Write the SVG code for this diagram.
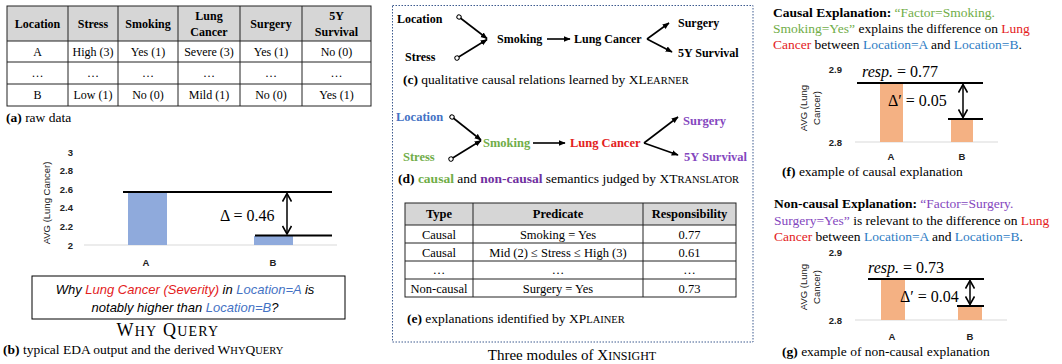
<svg xmlns="http://www.w3.org/2000/svg" width="1062" height="364" viewBox="0 0 1062 364">
<defs>
<style>
.serif{font-family:"Liberation Serif","Times New Roman",serif;fill:#000}
.sans{font-family:"Liberation Sans",Arial,sans-serif;fill:#000}
.th{font-family:"Liberation Serif",serif;font-weight:bold;font-size:12px;text-anchor:middle}
.td{font-family:"Liberation Serif",serif;font-size:12px;text-anchor:middle}
.te{font-size:12.5px}
.cap{font-family:"Liberation Serif",serif;font-size:13.5px}
.sc{font-size:10.5px}
.grid{stroke:#222;stroke-width:1;fill:none}
.hdr{fill:#D6D6D6}
.tick{font-family:"Liberation Sans",Arial,sans-serif;font-weight:bold;font-size:9.5px;fill:#222}
.ytitle{font-family:"Liberation Sans",Arial,sans-serif;font-size:9.5px;fill:#222;text-anchor:middle}
.axis{stroke:#D9D9D9;stroke-width:1}
.ref{stroke:#000;stroke-width:2}
.dbl{stroke:#000;stroke-width:1.5;marker-start:url(#chev);marker-end:url(#chev)}
.math{font-family:"Liberation Serif","DejaVu Serif",serif;font-size:16px}
.node{font-family:"Liberation Serif",serif;font-weight:bold;font-size:12px}
.noded{font-family:"Liberation Serif",serif;font-weight:bold;font-size:12.5px}
.edge{stroke:#000;stroke-width:1.6;fill:none;marker-end:url(#tri)}
.edgeo{stroke:#000;stroke-width:1.6;fill:none;marker-start:url(#circ);marker-end:url(#tri)}
.exp{font-family:"Liberation Serif",serif;font-size:13.5px}
.green{fill:#70AD47}
.red{fill:#E3211C}
.blue{fill:#2E7CC4}
.lblue{fill:#4472C4}
.purple{fill:#8447BE}
.dpurple{fill:#7030A0}
</style>
<marker id="chev" viewBox="0 0 10 10" refX="9" refY="5" markerWidth="10" markerHeight="10" markerUnits="userSpaceOnUse" orient="auto-start-reverse">
<path d="M1,0.5 L9,5 L1,9.5" fill="none" stroke="#000" stroke-width="1.6"/>
</marker>
<marker id="tri" viewBox="0 0 10 10" refX="9" refY="5" markerWidth="7" markerHeight="7" markerUnits="userSpaceOnUse" orient="auto">
<path d="M0,1 L10,5 L0,9 Z" fill="#000"/>
</marker>
<marker id="circ" viewBox="0 0 10 10" refX="5" refY="5" markerWidth="6" markerHeight="6" markerUnits="userSpaceOnUse" orient="auto">
<circle cx="5" cy="5" r="3.6" fill="#fff" stroke="#000" stroke-width="1.6"/>
</marker>
</defs>
<rect width="1062" height="364" fill="#fff"/>

<!-- (a) raw data table -->
<g id="table-a">
<rect class="hdr" x="7" y="6" width="364" height="35"/>
<rect class="grid" x="7" y="6" width="364" height="100" stroke-width="1.5"/>
<path class="grid" d="M7,41H371M7,62H371M7,84H371M68,6V106M118,6V106M178,6V106M240,6V106M302,6V106"/>
<text class="th" x="37.5" y="28">Location</text>
<text class="th" x="93" y="28">Stress</text>
<text class="th" x="148" y="28">Smoking</text>
<text class="th" x="209" y="20">Lung</text>
<text class="th" x="209" y="36">Cancer</text>
<text class="th" x="271" y="28">Surgery</text>
<text class="th" x="336.5" y="20">5Y</text>
<text class="th" x="336.5" y="36">Survival</text>
<text class="td" x="37.5" y="56">A</text>
<text class="td" x="93" y="56">High (3)</text>
<text class="td" x="148" y="56">Yes (1)</text>
<text class="td" x="209" y="56">Severe (3)</text>
<text class="td" x="271" y="56">Yes (1)</text>
<text class="td" x="336.5" y="56">No (0)</text>
<text class="td" x="37.5" y="77">…</text>
<text class="td" x="93" y="77">…</text>
<text class="td" x="148" y="77">…</text>
<text class="td" x="209" y="77">…</text>
<text class="td" x="271" y="77">…</text>
<text class="td" x="336.5" y="77">…</text>
<text class="td" x="37.5" y="99">B</text>
<text class="td" x="93" y="99">Low (1)</text>
<text class="td" x="148" y="99">No (0)</text>
<text class="td" x="209" y="99">Mild (1)</text>
<text class="td" x="271" y="99">No (0)</text>
<text class="td" x="336.5" y="99">Yes (1)</text>
<text class="cap" x="6" y="122"><tspan font-weight="bold">(a)</tspan> raw data</text>
</g>

<!-- (b) EDA chart -->
<g id="chart-b">
<text class="ytitle" transform="translate(50,203) rotate(-90)">AVG (Lung Cancer)</text>
<g class="tick" text-anchor="end">
<text x="73" y="155.5">3</text>
<text x="73" y="174">2.8</text>
<text x="73" y="192.5">2.6</text>
<text x="73" y="211">2.4</text>
<text x="73" y="230">2.2</text>
<text x="73" y="248.5">2</text>
</g>
<line class="axis" x1="84" y1="245" x2="337" y2="245"/>
<rect x="128" y="192" width="39" height="53" fill="#8FAADC"/>
<rect x="254" y="236" width="39" height="9" fill="#8FAADC"/>
<line class="ref" x1="123" y1="192" x2="332" y2="192"/>
<line class="ref" x1="255" y1="235.5" x2="332" y2="235.5"/>
<line class="dbl" x1="287" y1="193.5" x2="287" y2="234"/>
<text class="math" x="220" y="221" font-size="17">Δ = 0.46</text>
<text class="tick" x="146" y="265.5" text-anchor="middle">A</text>
<text class="tick" x="273" y="265.5" text-anchor="middle">B</text>
</g>

<g id="why-query">
<rect x="32" y="276" width="313" height="43" fill="#fff" stroke="#000" stroke-width="1"/>
<text class="sans" x="185" y="294" font-size="13" font-style="italic" text-anchor="middle">Why <tspan class="red">Lung Cancer (Severity)</tspan> in <tspan class="lblue">Location=A</tspan> is</text>
<text class="sans" x="185" y="312" font-size="13" font-style="italic" text-anchor="middle">notably higher than <tspan class="lblue">Location=B</tspan>?</text>
<text class="serif" x="168" y="336" text-anchor="middle" font-size="18" letter-spacing="1.2">W<tspan font-size="14">HY</tspan> Q<tspan font-size="14">UERY</tspan></text>
<text class="cap" x="3" y="354"><tspan font-weight="bold">(b)</tspan> typical EDA output and the derived W<tspan class="sc">HY</tspan>Q<tspan class="sc">UERY</tspan></text>
</g>

<!-- middle dotted frame -->
<g id="modules-frame">
<rect x="392.5" y="5.5" width="360.5" height="336.5" fill="none" stroke="#3D5A8E" stroke-width="1" stroke-dasharray="1.5 1.5"/>
<text class="serif" x="572" y="360" font-size="15" text-anchor="middle">Three modules of X<tspan font-size="12">INSIGHT</tspan></text>
</g>

<!-- (c) causal graph -->
<g id="graph-c">
<g id="c-location"><text class="node" x="397" y="23">Location</text></g>
<g id="c-stress"><text class="node" x="405" y="61">Stress</text></g>
<g id="c-smoking"><text class="node" x="497" y="43">Smoking</text></g>
<g id="c-lung"><text class="node" x="574" y="43">Lung Cancer</text></g>
<g id="c-surgery"><text class="node" x="678" y="27">Surgery</text></g>
<g id="c-survival"><text class="node" x="678" y="57">5Y Survival</text></g>
<g id="c-edges">
<line class="edgeo" x1="459" y1="17" x2="487" y2="38.5"/>
<line class="edgeo" x1="457" y1="58" x2="487" y2="39.5"/>
<line class="edge" x1="547" y1="39" x2="570" y2="39"/>
<line class="edge" x1="647" y1="39" x2="669" y2="23"/>
<line class="edge" x1="647" y1="39" x2="672" y2="52"/>
</g>
<text class="cap" x="403" y="84"><tspan font-weight="bold">(c)</tspan> qualitative causal relations learned by XL<tspan class="sc">EARNER</tspan></text>
</g>

<!-- (d) semantics graph -->
<g id="graph-d">
<g id="d-location"><text class="noded lblue" x="396" y="121">Location</text></g>
<g id="d-stress"><text class="noded green" x="403" y="161">Stress</text></g>
<g id="d-smoking"><text class="noded green" x="483" y="147">Smoking</text></g>
<g id="d-lung"><text class="noded red" x="570" y="147">Lung Cancer</text></g>
<g id="d-surgery"><text class="noded purple" x="683" y="125">Surgery</text></g>
<g id="d-survival"><text class="noded purple" x="684" y="161">5Y Survival</text></g>
<g id="d-edges">
<line class="edgeo" x1="452" y1="117" x2="481" y2="140"/>
<line class="edgeo" x1="451" y1="159" x2="481" y2="140.5"/>
<line class="edge" x1="533" y1="143" x2="565" y2="143"/>
<line class="edge" x1="644" y1="143" x2="678" y2="117"/>
<line class="edge" x1="644" y1="143" x2="678" y2="155"/>
</g>
<text class="cap" x="398" y="183"><tspan font-weight="bold">(d)</tspan> <tspan class="green" font-weight="bold">causal</tspan> and <tspan class="dpurple" font-weight="bold">non-causal</tspan> semantics judged by XT<tspan class="sc">RANSLATOR</tspan></text>
</g>

<!-- (e) explanations table -->
<g id="table-e">
<rect class="hdr" x="405" y="203" width="331" height="22"/>
<rect class="grid" x="405" y="203" width="331" height="94" stroke-width="1.5"/>
<path class="grid" d="M405,225H736M405,243H736M405,261H736M405,279H736M473,203V297M643,203V297"/>
<text class="th te" x="439" y="218">Type</text>
<text class="th te" x="558" y="218">Predicate</text>
<text class="th te" x="689.5" y="218">Responsibility</text>
<text class="td te" x="439" y="238.5">Causal</text>
<text class="td te" x="558" y="238.5">Smoking = Yes</text>
<text class="td te" x="689.5" y="238.5">0.77</text>
<text class="td te" x="439" y="256.5">Causal</text>
<text class="td te" x="558" y="256.5">Mid (2) ≤ Stress ≤ High (3)</text>
<text class="td te" x="689.5" y="256.5">0.61</text>
<text class="td te" x="439" y="274">…</text>
<text class="td te" x="558" y="274">…</text>
<text class="td te" x="689.5" y="274">…</text>
<text class="td te" x="439" y="292.5">Non-causal</text>
<text class="td te" x="558" y="292.5">Surgery = Yes</text>
<text class="td te" x="689.5" y="292.5">0.73</text>
<text class="cap" x="407" y="323"><tspan font-weight="bold">(e)</tspan> explanations identified by XP<tspan class="sc">LAINER</tspan></text>
</g>

<!-- (f) causal explanation -->
<g id="explain-f">
<text class="exp" x="773" y="17"><tspan font-weight="bold">Causal Explanation:</tspan> <tspan class="green">“Factor=Smoking.</tspan></text>
<text class="exp" x="773" y="33"><tspan class="green">Smoking=Yes”</tspan> explains the difference on <tspan class="red">Lung</tspan></text>
<text class="exp" x="773" y="49"><tspan class="red">Cancer</tspan> between <tspan class="blue">Location=A</tspan> and <tspan class="blue">Location=B</tspan>.</text>
<text class="ytitle" transform="translate(807,108) rotate(-90)">AVG (Lung</text>
<text class="ytitle" transform="translate(820,108) rotate(-90)">Cancer)</text>
<text class="tick" x="842" y="72.5" text-anchor="end">2.9</text>
<text class="tick" x="842" y="145.5" text-anchor="end">2.8</text>
<line class="axis" x1="855" y1="142" x2="998" y2="142"/>
<rect x="880" y="83" width="23" height="59" fill="#F4B183"/>
<rect x="951" y="119" width="22" height="23" fill="#F4B183"/>
<line class="ref" x1="857" y1="83" x2="983" y2="83"/>
<line class="ref" x1="948" y1="119" x2="983" y2="119"/>
<line class="dbl" x1="963" y1="84.5" x2="963" y2="117.5"/>
<text class="math" x="862" y="77"><tspan font-style="italic">resp.</tspan> = 0.77</text>
<text class="math" x="888" y="106">Δ′ = 0.05</text>
<text class="tick" x="891" y="159.5" text-anchor="middle">A</text>
<text class="tick" x="962" y="159.5" text-anchor="middle">B</text>
<text class="cap" x="782" y="176"><tspan font-weight="bold">(f)</tspan> example of causal explanation</text>
</g>

<!-- (g) non-causal explanation -->
<g id="explain-g">
<text class="exp" x="774" y="208"><tspan font-weight="bold">Non-causal Explanation:</tspan> <tspan class="purple">“Factor=Surgery.</tspan></text>
<text class="exp" x="774" y="225"><tspan class="purple">Surgery=Yes”</tspan> is relevant to the difference on <tspan class="red">Lung</tspan></text>
<text class="exp" x="774" y="241"><tspan class="red">Cancer</tspan> between <tspan class="blue">Location=A</tspan> and <tspan class="blue">Location=B</tspan>.</text>
<text class="ytitle" transform="translate(807,287) rotate(-90)">AVG (Lung</text>
<text class="ytitle" transform="translate(820,287) rotate(-90)">Cancer)</text>
<text class="tick" x="842" y="255.5" text-anchor="end">2.9</text>
<text class="tick" x="842" y="323.5" text-anchor="end">2.8</text>
<line class="axis" x1="855" y1="320" x2="1007" y2="320"/>
<rect x="881" y="279" width="24" height="41" fill="#F4B183"/>
<rect x="958" y="307" width="24" height="13" fill="#F4B183"/>
<line class="ref" x1="868" y1="279" x2="984" y2="279"/>
<line class="ref" x1="957" y1="306" x2="984" y2="306"/>
<line class="dbl" x1="970" y1="280.5" x2="970" y2="304.5"/>
<text class="math" x="868" y="273"><tspan font-style="italic">resp.</tspan> = 0.73</text>
<text class="math" x="900" y="302">Δ′ = 0.04</text>
<text class="tick" x="892" y="339.5" text-anchor="middle">A</text>
<text class="tick" x="970" y="339.5" text-anchor="middle">B</text>
<text class="cap" x="782" y="356"><tspan font-weight="bold">(g)</tspan> example of non-causal explanation</text>
</g>
</svg>
